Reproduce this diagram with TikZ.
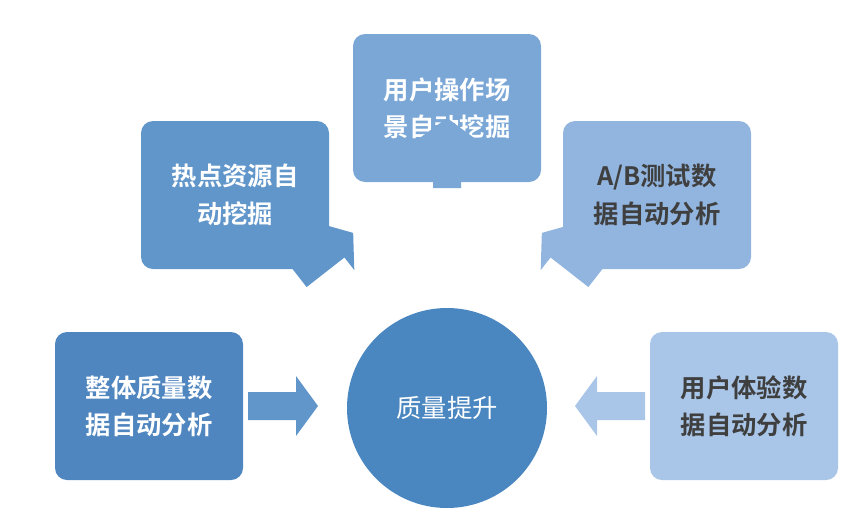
\documentclass[tikz,border=0pt]{standalone}
\usepackage{fontspec}
\newfontfamily\cjk{Noto Sans CJK SC}
\newfontfamily\cjkb{Noto Sans CJK SC Bold}
\usetikzlibrary{calc}
\definecolor{c1}{HTML}{4F86C0}
\definecolor{c2}{HTML}{6196CB}
\definecolor{c3}{HTML}{7BA7D7}
\definecolor{c4}{HTML}{92B5DF}
\definecolor{c5}{HTML}{A9C6E8}
\definecolor{ci}{HTML}{4A86C0}
\definecolor{tg}{HTML}{3F3F3F}
\tikzset{
  box/.style={rounded corners=9pt, minimum width=141pt, minimum height=111pt, align=center, font=\cjkb\fontsize{19}{28}\selectfont, text=white, inner sep=0pt},
  blk/.pic={\fill[pic actions] (0,-14) -- (48,-14) -- (48,-30) -- (70,0) -- (48,30) -- (48,14) -- (0,14) -- cycle;}
}
\begin{document}
\begin{tikzpicture}[x=0.75pt,y=-0.75pt]
\useasboundingbox (0,0) rectangle (867,529);
\node[box, fill=c1] (b1) at (149,406) {整体质量数\\据自动分析};
\node[box, fill=c2] (b2) at (235,195) {热点资源自\\动挖掘};
\node[box, fill=c3] (b3) at (447,108) {用户操作场\\景自动挖掘};
\node[box, fill=c4, text=tg] (b4) at (657,195) {A/B测试数\\据自动分析};
\node[box, fill=c5, text=tg] (b5) at (744,406) {用户体验数\\据自动分析};
\node[circle, fill=ci, minimum size=150pt, text=white, font=\cjk\fontsize{19}{22}\selectfont] (c) at (447,408) {质量提升};
\pic[fill=c2] at (248,406) {blk};
\pic[fill=c2, rotate=38] at (298,276) {blk};
\pic[fill=c3, rotate=90] at (447,188) {blk};
\pic[fill=c4, rotate=142] at (597,276) {blk};
\pic[fill=c5, rotate=180] at (645,406) {blk};
\end{tikzpicture}
\end{document}
